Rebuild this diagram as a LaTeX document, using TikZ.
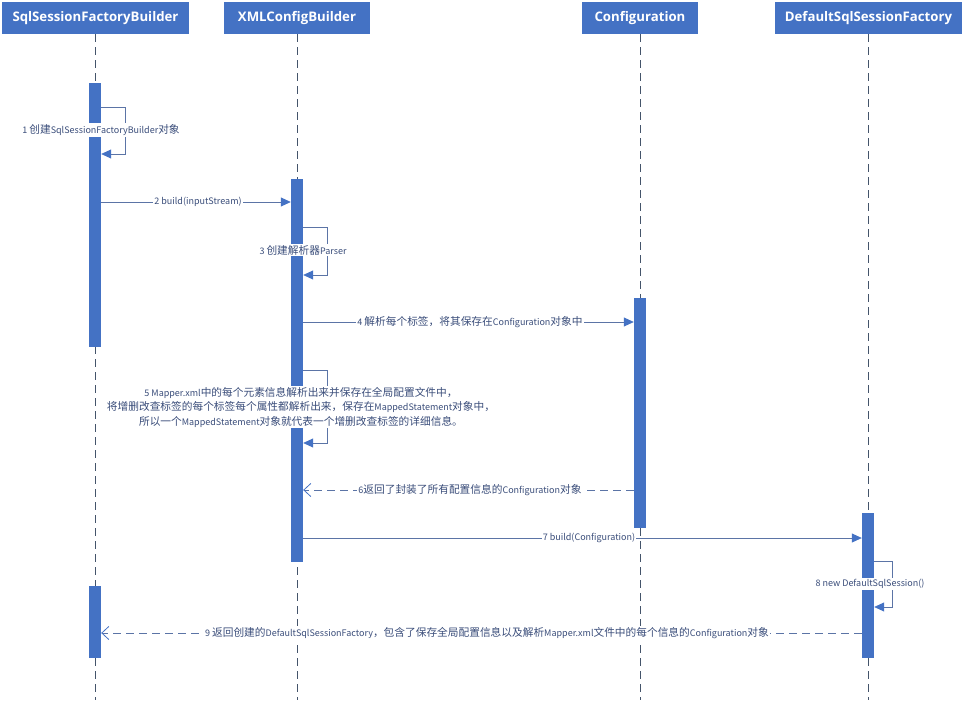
\documentclass[tikz,border=0pt]{standalone}
\usepackage{fontspec}
\setmainfont{Noto Sans CJK SC}
\newfontfamily\hdrfont{Open Sans}
\newfontfamily\cjkfont{Noto Sans CJK SC}
\newcommand{\C}[1]{{\cjkfont\fontsize{10.7}{14.5}\selectfont #1}}
\usetikzlibrary{arrows.meta}
\definecolor{hblue}{HTML}{4472C4}
\definecolor{lifec}{HTML}{44546A}
\definecolor{msgc}{HTML}{5B74A6}
\definecolor{txtc}{HTML}{3A4D7A}
\tikzset{
  hdr/.style={rectangle, fill=hblue, draw=none, text=white, minimum height=32pt, inner sep=0pt,
    font=\hdrfont\fontsize{13.2}{15}\selectfont\bfseries},
  bar/.style={rectangle, fill=hblue, draw=none, minimum width=12pt, inner sep=0pt},
  life/.style={draw=lifec, line width=0.8pt, dash pattern=on 8pt off 5pt},
  msg/.style={draw=msgc, line width=0.8pt, -{Triangle[length=10pt,width=9pt,fill=hblue,color=hblue]}},
  selfmsg/.style={draw=msgc, line width=0.8pt, -{Triangle[length=10pt,width=9pt,fill=hblue,color=hblue]}},
  ret/.style={draw=msgc, line width=0.8pt, dash pattern=on 8pt off 5pt, -{Straight Barb[length=7pt,width=13pt,color=hblue]}},
  lbl/.style={fill=white, text=txtc, inner sep=1pt, font=\fontsize{9}{14.5}\selectfont, align=center}
}
\begin{document}
\begin{tikzpicture}[x=1pt,y=-1pt]
\useasboundingbox (0,0) rectangle (964,706);
% headers
\node[hdr, minimum width=187pt] (hA) at (95.5,18) {SqlSessionFactoryBuilder};
\node[hdr, minimum width=146pt] (hB) at (297,18) {XMLConfigBuilder};
\node[hdr, minimum width=116pt] (hC) at (640,18) {Configuration};
\node[hdr, minimum width=187pt] (hD) at (868.5,18) {DefaultSqlSessionFactory};
% lifeline ends
\coordinate (eA) at (95,700);
\coordinate (eB) at (297,700);
\coordinate (eC) at (640,700);
\coordinate (eD) at (868,700);
\draw[life] (hA.south -| eA) -- (eA);
\draw[life] (hB.south -| eB) -- (eB);
\draw[life] (hC.south -| eC) -- (eC);
\draw[life] (hD.south -| eD) -- (eD);
% activation bars
\node[bar, minimum height=264pt] (a1) at (95,215) {};
\node[bar, minimum height=72pt] (a2) at (95,622) {};
\node[bar, minimum height=383pt] (b1) at (297,370.5) {};
\node[bar, minimum height=230pt] (c1) at (640,413) {};
\node[bar, minimum height=145pt] (d1) at (868,585.5) {};
% messages
\draw[selfmsg] (a1.east |- 0,107) -- ++(24,0) |- (a1.east |- 0,154);
\draw[msg] (a1.east |- 0,202) -- (b1.west |- 0,202);
\draw[selfmsg] (b1.east |- 0,227) -- ++(24,0) |- (b1.east |- 0,275);
\draw[msg] (b1.east |- 0,322) -- (c1.west |- 0,322);
\draw[selfmsg] (b1.east |- 0,370) -- ++(24,0) |- (b1.east |- 0,443);
\draw[ret] (c1.west |- 0,490) -- (b1.east |- 0,490);
\draw[msg] (b1.east |- 0,538) -- (d1.west |- 0,538);
\draw[selfmsg] (d1.east |- 0,561) -- ++(18,0) |- (d1.east |- 0,607);
\draw[ret] (d1.west |- 0,633) -- (a2.east |- 0,633);
% labels
\node[lbl] (l1) at (101,130) {1 \C{创建}SqlSessionFactoryBuilder\C{对象}};
\node[lbl] (l2) at (198,202) {2 build(inputStream)};
\node[lbl] (l3) at (303,250) {3 \C{创建解析器}Parser};
\node[lbl] (l4) at (470,322) {4 \C{解析每个标签，将其保存在}Configuration\C{对象中}};
\node[lbl] (l5) at (301,407) {5 Mapper.xml\C{中的每个元素信息解析出来并保存在全局配置文件中，}\\\C{将增删改查标签的每个标签每个属性都解析出来，保存在}MappedStatement\C{对象中，}\\\C{所以一个}MappedStatement\C{对象就代表一个增删改查标签的详细信息。}};
\node[lbl] (l6) at (470,490) {6\C{返回了封装了所有配置信息的}Configuration\C{对象}};
\node[lbl] (l7) at (589,538) {7 build(Configuration)};
\node[lbl] (l8) at (870,584) {8 new DefaultSqlSession()};
\node[lbl] (l9) at (487,633) {9 \C{返回创建的}DefaultSqlSessionFactory\C{，包含了保存全局配置信息以及解析}Mapper.xml\C{文件中的每个信息的}Configuration\C{对象}};
\end{tikzpicture}
\end{document}
